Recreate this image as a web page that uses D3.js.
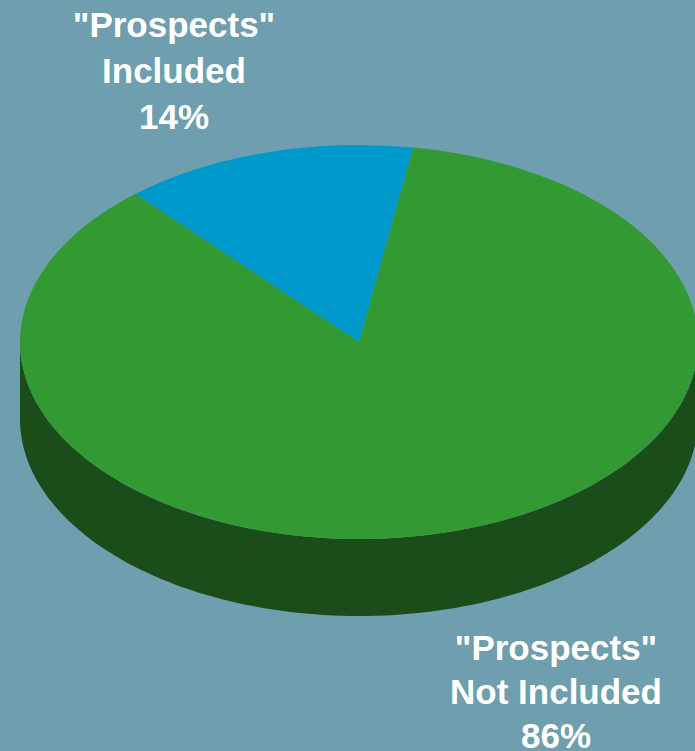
<!DOCTYPE html>
<html>
<head>
<meta charset="utf-8">
<script src="https://cdn.jsdelivr.net/npm/d3@7"></script>
<style>
  html, body { margin: 0; padding: 0; background: #6f9fae; }
  svg { display: block; }
</style>
</head>
<body>
<svg id="chart" width="695" height="751"></svg>
<script>
// ---- data ----
const categories = ['"Prospects" Not Included', '"Prospects" Included'];
const values = [86, 14];
const labelLines = [
  ['"Prospects"', 'Not Included', '86%'],
  ['"Prospects"', 'Included', '14%']
];
const topColors = ['#339933', '#0099cc'];
const sideColors = ['#1b4d1a', '#006b8f'];

// ---- layout ----
const W = 695, H = 751;
const cx = 359, cy = 342, rx = 339, ry = 197, depth = 77;
const startOffset = 0.16;

const svg = d3.select('#chart');
svg.append('rect').attr('width', W).attr('height', H).attr('fill', '#6f9fae');

const pie = d3.pie().sort(null).value(d => d)
  .startAngle(startOffset).endAngle(startOffset + 2 * Math.PI);
const arcsData = pie(values);

const ex = a => cx + rx * Math.sin(a);
const ey = a => cy - ry * Math.cos(a);

// side walls (front half only: angles PI/2 .. 3PI/2)
const wallG = svg.append('g');
arcsData.forEach((d, i) => {
  [0, 2 * Math.PI].forEach(shift => {
    const s = Math.max(d.startAngle, Math.PI / 2 + shift);
    const e = Math.min(d.endAngle, 3 * Math.PI / 2 + shift);
    if (e <= s) return;
    const n = 120;
    const pts = [];
    for (let k = 0; k <= n; k++) { const a = s + (e - s) * k / n; pts.push([ex(a), ey(a)]); }
    for (let k = n; k >= 0; k--) { const a = s + (e - s) * k / n; pts.push([ex(a), ey(a) + depth]); }
    wallG.append('path')
      .attr('d', d3.line()(pts) + 'Z')
      .attr('fill', sideColors[i]);
  });
});

// top faces
const arc = d3.arc().innerRadius(0).outerRadius(rx);
svg.append('g')
  .attr('transform', `translate(${cx},${cy}) scale(1,${ry / rx})`)
  .selectAll('path')
  .data(arcsData)
  .join('path')
  .attr('d', arc)
  .attr('fill', (d, i) => topColors[i]);

// labels
const labelPos = [
  { x: 556, y: [660, 704, 748] },
  { x: 174, y: [37, 83, 129] }
];
labelLines.forEach((lines, i) => {
  const t = svg.append('text')
    .attr('text-anchor', 'middle')
    .attr('font-family', '"Liberation Sans", Arial, sans-serif')
    .attr('font-weight', 'bold')
    .attr('font-size', 35)
    .attr('fill', '#ffffff');
  lines.forEach((ln, j) => {
    t.append('tspan').attr('x', labelPos[i].x).attr('y', labelPos[i].y[j]).text(ln);
  });
});
</script>
</body>
</html>
